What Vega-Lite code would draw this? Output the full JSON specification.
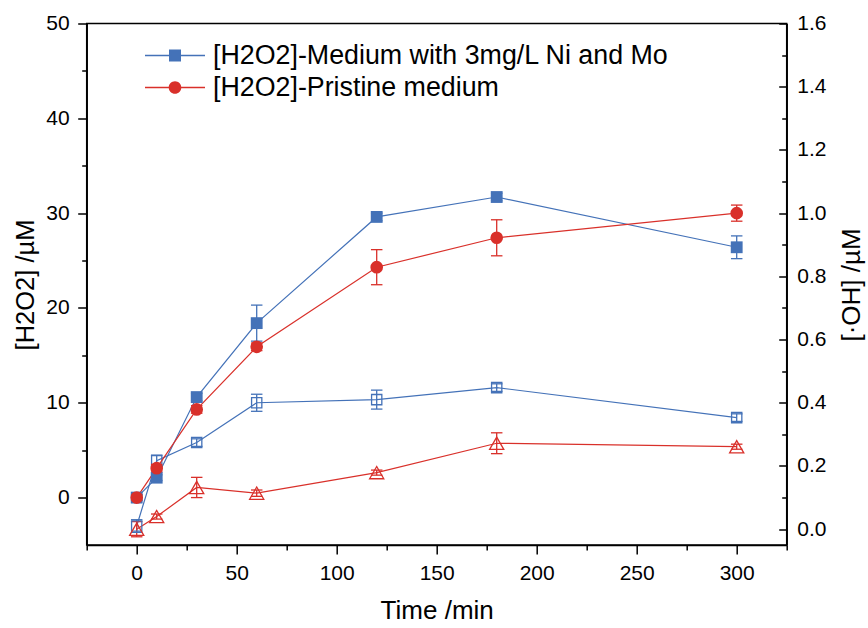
{
  "$schema": "https://vega.github.io/schema/vega-lite/v6.json",
  "width": 700,
  "height": 521.5,
  "autosize": "none",
  "padding": {"left": 86.7, "top": 23.5, "right": 81.3, "bottom": 83},
  "background": "white",
  "config": {
    "view": {"stroke": "black", "strokeWidth": 1.5},
    "axis": {
      "grid": false,
      "domainColor": "black",
      "domainWidth": 1.5,
      "tickColor": "black",
      "tickWidth": 1.5,
      "labelColor": "black",
      "titleColor": "black",
      "labelFont": "Liberation Sans",
      "titleFont": "Liberation Sans",
      "labelFontSize": 21,
      "titleFontSize": 26,
      "titleFontWeight": "normal"
    },
    "legend": {
      "labelFont": "Liberation Sans",
      "labelFontSize": 26.8,
      "labelColor": "black",
      "labelLimit": 800,
      "padding": 0
    }
  },
  "data": {
    "values": [
      {"s": "[H2O2]-Medium with 3mg/L Ni and Mo", "t": 0, "v": 0.0, "lo": -0.3, "hi": 0.3},
      {"s": "[H2O2]-Medium with 3mg/L Ni and Mo", "t": 10, "v": 2.1, "lo": 1.8, "hi": 2.4},
      {"s": "[H2O2]-Medium with 3mg/L Ni and Mo", "t": 30, "v": 10.6, "lo": 10.2, "hi": 11.0},
      {"s": "[H2O2]-Medium with 3mg/L Ni and Mo", "t": 60, "v": 18.4, "lo": 16.5, "hi": 20.3},
      {"s": "[H2O2]-Medium with 3mg/L Ni and Mo", "t": 120, "v": 29.6, "lo": 29.2, "hi": 30.0},
      {"s": "[H2O2]-Medium with 3mg/L Ni and Mo", "t": 180, "v": 31.7, "lo": 31.3, "hi": 32.1},
      {"s": "[H2O2]-Medium with 3mg/L Ni and Mo", "t": 300, "v": 26.4, "lo": 25.2, "hi": 27.6},
      {"s": "[H2O2]-Pristine medium", "t": 0, "v": 0.0, "lo": -0.3, "hi": 0.3},
      {"s": "[H2O2]-Pristine medium", "t": 10, "v": 3.1, "lo": 2.7, "hi": 3.5},
      {"s": "[H2O2]-Pristine medium", "t": 30, "v": 9.3, "lo": 8.9, "hi": 9.7},
      {"s": "[H2O2]-Pristine medium", "t": 60, "v": 15.9, "lo": 15.5, "hi": 16.3},
      {"s": "[H2O2]-Pristine medium", "t": 120, "v": 24.3, "lo": 22.45, "hi": 26.15},
      {"s": "[H2O2]-Pristine medium", "t": 180, "v": 27.4, "lo": 25.5, "hi": 29.3},
      {"s": "[H2O2]-Pristine medium", "t": 300, "v": 30.0, "lo": 29.15, "hi": 30.85},
      {"s": "[·OH]-Medium with 3mg/L Ni and Mo", "t": 0, "v": 0.01, "lo": -0.01, "hi": 0.03},
      {"s": "[·OH]-Medium with 3mg/L Ni and Mo", "t": 10, "v": 0.217, "lo": 0.2, "hi": 0.234},
      {"s": "[·OH]-Medium with 3mg/L Ni and Mo", "t": 30, "v": 0.274, "lo": 0.262, "hi": 0.286},
      {"s": "[·OH]-Medium with 3mg/L Ni and Mo", "t": 60, "v": 0.4, "lo": 0.373, "hi": 0.427},
      {"s": "[·OH]-Medium with 3mg/L Ni and Mo", "t": 120, "v": 0.41, "lo": 0.38, "hi": 0.44},
      {"s": "[·OH]-Medium with 3mg/L Ni and Mo", "t": 180, "v": 0.448, "lo": 0.436, "hi": 0.46},
      {"s": "[·OH]-Medium with 3mg/L Ni and Mo", "t": 300, "v": 0.353, "lo": 0.341, "hi": 0.365},
      {"s": "[·OH]-Pristine medium", "t": 0, "v": 0.0, "lo": -0.024, "hi": 0.024},
      {"s": "[·OH]-Pristine medium", "t": 10, "v": 0.04, "lo": 0.032, "hi": 0.048},
      {"s": "[·OH]-Pristine medium", "t": 30, "v": 0.132, "lo": 0.1, "hi": 0.164},
      {"s": "[·OH]-Pristine medium", "t": 60, "v": 0.114, "lo": 0.104, "hi": 0.124},
      {"s": "[·OH]-Pristine medium", "t": 120, "v": 0.179, "lo": 0.171, "hi": 0.187},
      {"s": "[·OH]-Pristine medium", "t": 180, "v": 0.272, "lo": 0.239, "hi": 0.305},
      {"s": "[·OH]-Pristine medium", "t": 300, "v": 0.261, "lo": 0.253, "hi": 0.269}
    ]
  },
  "layer": [
    {
      "transform": [{"filter": {"field": "s", "oneOf": ["[·OH]-Medium with 3mg/L Ni and Mo", "[·OH]-Pristine medium"]}}],
      "layer": [
        {
          "mark": {"type": "line", "strokeWidth": 1.2},
          "encoding": {
            "x": {"field": "t", "type": "quantitative", "scale": {"domain": [-25, 325], "nice": false, "zero": false}, "axis": null},
            "y": {"field": "v", "type": "quantitative", "scale": {"domain": [-0.05, 1.6], "nice": false, "zero": false},
              "axis": {"orient": "right", "values": [0, 0.2, 0.4, 0.6, 0.8, 1.0, 1.2, 1.4, 1.6], "format": ".1f", "tickSize": -8, "labelPadding": 18, "domain": true,
                "title": "[·OH] /µM", "titleAngle": 270, "titleX": 64.3, "titleY": 261, "titleAlign": "center", "titleBaseline": "middle"}},
            "stroke": {"field": "s", "type": "nominal", "scale": {"domain": ["[H2O2]-Medium with 3mg/L Ni and Mo", "[H2O2]-Pristine medium", "[·OH]-Medium with 3mg/L Ni and Mo", "[·OH]-Pristine medium"], "range": ["#4472B8", "#D9302A", "#4472B8", "#D9302A"]}, "legend": null}
          }
        },
        {
          "mark": {"type": "rule", "strokeWidth": 1.3},
          "encoding": {
            "x": {"field": "t", "type": "quantitative", "axis": null},
            "y": {"field": "lo", "type": "quantitative",
              "axis": {"orient": "right", "values": [0.1, 0.3, 0.5, 0.7, 0.9, 1.1, 1.3, 1.5], "tickSize": -5, "labels": false, "domain": false, "title": null}},
            "y2": {"field": "hi"},
            "stroke": {"field": "s", "type": "nominal", "legend": null}
          }
        },
        {
          "mark": {"type": "point", "shape": "stroke", "size": 132, "strokeWidth": 1.3, "filled": false, "opacity": 1},
          "encoding": {
            "x": {"field": "t", "type": "quantitative", "axis": null},
            "y": {"field": "lo", "type": "quantitative", "axis": null},
            "stroke": {"field": "s", "type": "nominal", "legend": null}
          }
        },
        {
          "mark": {"type": "point", "shape": "stroke", "size": 132, "strokeWidth": 1.3, "filled": false, "opacity": 1},
          "encoding": {
            "x": {"field": "t", "type": "quantitative", "axis": null},
            "y": {"field": "hi", "type": "quantitative", "axis": null},
            "stroke": {"field": "s", "type": "nominal", "legend": null}
          }
        },
        {
          "transform": [{"filter": {"field": "s", "equal": "[·OH]-Medium with 3mg/L Ni and Mo"}}],
          "mark": {"type": "point", "shape": "square", "size": 105, "strokeWidth": 1.3, "filled": false, "opacity": 1},
          "encoding": {
            "x": {"field": "t", "type": "quantitative", "axis": null},
            "y": {"field": "v", "type": "quantitative", "axis": null},
            "stroke": {"field": "s", "type": "nominal", "legend": null}
          }
        },
        {
          "transform": [{"filter": {"field": "s", "equal": "[·OH]-Pristine medium"}}],
          "mark": {"type": "point", "shape": "triangle-up", "size": 200, "strokeWidth": 1.3, "filled": false, "opacity": 1},
          "encoding": {
            "x": {"field": "t", "type": "quantitative", "axis": null},
            "y": {"field": "v", "type": "quantitative", "axis": null},
            "stroke": {"field": "s", "type": "nominal", "legend": null}
          }
        }
      ],
      "resolve": {"axis": {"y": "independent"}}
    },
    {
      "transform": [{"filter": {"field": "s", "oneOf": ["[H2O2]-Medium with 3mg/L Ni and Mo", "[H2O2]-Pristine medium"]}}],
      "layer": [
        {
          "mark": {"type": "line", "strokeWidth": 1.2},
          "encoding": {
            "x": {"field": "t", "type": "quantitative", "scale": {"domain": [-25, 325], "nice": false, "zero": false},
              "axis": {"orient": "bottom", "values": [0, 50, 100, 150, 200, 250, 300], "tickSize": 9, "labelPadding": 8, "labelFlush": false,
                "title": "Time /min", "titleX": 350, "titleY": 65, "titleAlign": "center", "titleBaseline": "middle"}},
            "y": {"field": "v", "type": "quantitative", "scale": {"domain": [-5, 50], "nice": false, "zero": false},
              "axis": {"orient": "left", "values": [0, 10, 20, 30, 40, 50], "tickSize": 9, "labelPadding": 8.5, "labelFlush": false,
                "title": "[H2O2] /µM", "titleFontSize": 25.5, "titleAngle": 270, "titleX": -60.7, "titleY": 261, "titleAlign": "center", "titleBaseline": "middle"}},
            "stroke": {"field": "s", "type": "nominal", "legend": null}
          }
        },
        {
          "mark": {"type": "rule", "strokeWidth": 1.3},
          "encoding": {
            "x": {"field": "t", "type": "quantitative",
              "axis": {"orient": "bottom", "values": [-25, 25, 75, 125, 175, 225, 275, 325], "tickSize": 5, "labels": false, "domain": false, "title": null}},
            "y": {"field": "lo", "type": "quantitative",
              "axis": {"orient": "left", "values": [5, 15, 25, 35, 45], "tickSize": 5, "labels": false, "domain": false, "title": null}},
            "y2": {"field": "hi"},
            "stroke": {"field": "s", "type": "nominal", "legend": null}
          }
        },
        {
          "mark": {"type": "point", "shape": "stroke", "size": 132, "strokeWidth": 1.3, "filled": false, "opacity": 1},
          "encoding": {
            "x": {"field": "t", "type": "quantitative", "axis": null},
            "y": {"field": "lo", "type": "quantitative", "axis": null},
            "stroke": {"field": "s", "type": "nominal", "legend": null}
          }
        },
        {
          "mark": {"type": "point", "shape": "stroke", "size": 132, "strokeWidth": 1.3, "filled": false, "opacity": 1},
          "encoding": {
            "x": {"field": "t", "type": "quantitative", "axis": null},
            "y": {"field": "hi", "type": "quantitative", "axis": null},
            "stroke": {"field": "s", "type": "nominal", "legend": null}
          }
        },
        {
          "transform": [{"filter": {"field": "s", "equal": "[H2O2]-Medium with 3mg/L Ni and Mo"}}],
          "mark": {"type": "point", "shape": "square", "size": 140, "filled": true, "opacity": 1},
          "encoding": {
            "x": {"field": "t", "type": "quantitative", "axis": null},
            "y": {"field": "v", "type": "quantitative", "axis": null},
            "color": {"field": "s", "type": "nominal", "scale": {"domain": ["[H2O2]-Medium with 3mg/L Ni and Mo"], "range": ["#4472B8"]},
              "legend": {"orient": "none", "legendX": 58.3, "legendY": 2, "title": null, "symbolType": "M-1,-0.025H-0.2V0.025H-1Z M0.2,-0.025H1V0.025H0.2Z M-0.2,-0.2H0.2V0.2H-0.2Z", "symbolSize": 3600, "symbolStrokeWidth": 0, "labelOffset": 8}}
          }
        },
        {
          "transform": [{"filter": {"field": "s", "equal": "[H2O2]-Pristine medium"}}],
          "mark": {"type": "point", "shape": "circle", "size": 160, "filled": true, "opacity": 1},
          "encoding": {
            "x": {"field": "t", "type": "quantitative", "axis": null},
            "y": {"field": "v", "type": "quantitative", "axis": null},
            "color": {"field": "s", "type": "nominal", "scale": {"domain": ["[H2O2]-Pristine medium"], "range": ["#D9302A"]},
              "legend": {"orient": "none", "legendX": 58.3, "legendY": 34, "title": null, "symbolType": "M-1,-0.025H-0.2V0.025H-1Z M0.2,-0.025H1V0.025H0.2Z M-0.21,0A0.21,0.21,0,1,1,0.21,0A0.21,0.21,0,1,1,-0.21,0Z", "symbolSize": 3600, "symbolStrokeWidth": 0, "labelOffset": 8}}
          }
        }
      ],
      "resolve": {"scale": {"color": "independent"}, "axis": {"x": "independent", "y": "independent"}}
    }
  ],
  "resolve": {"scale": {"y": "independent"}}
}
